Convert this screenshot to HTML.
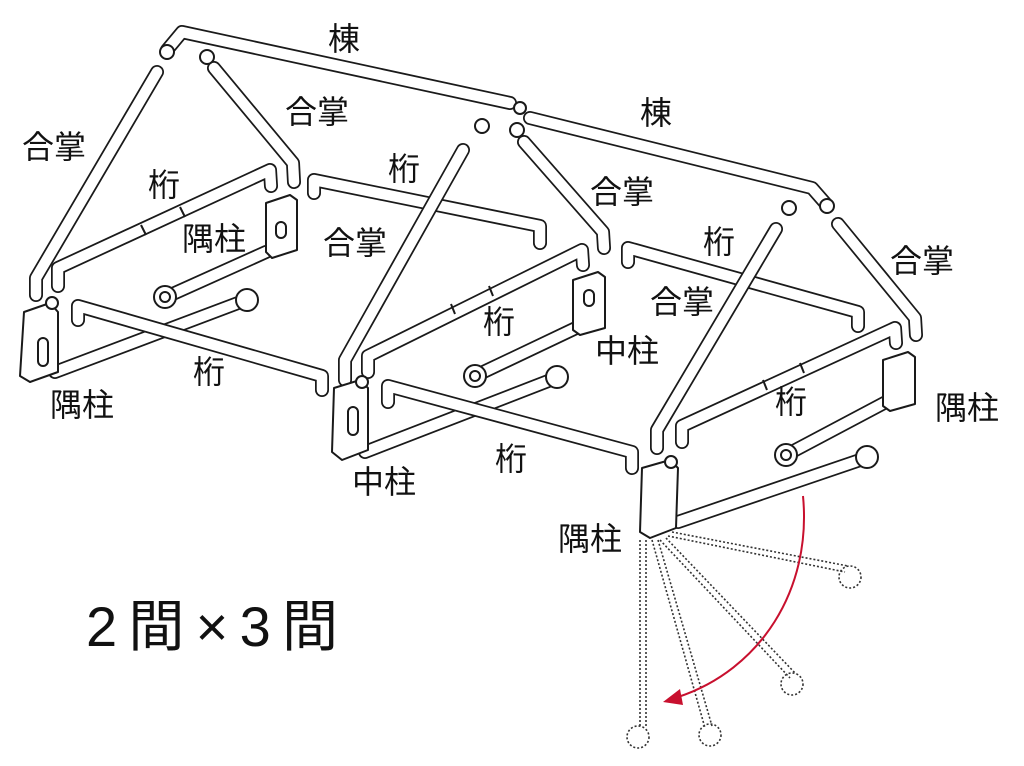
<!DOCTYPE html>
<html><head><meta charset="utf-8"><style>
html,body{margin:0;padding:0;background:#fff;}
svg{display:block}
.o{fill:none;stroke:#1a1a1a;stroke-width:14;stroke-linecap:round;stroke-linejoin:round}
.i{fill:none;stroke:#fff;stroke-width:10.5;stroke-linecap:round;stroke-linejoin:round}
.p{fill:#fff;stroke:#1a1a1a;stroke-width:2;stroke-linejoin:round}
.d{fill:none;stroke:#333;stroke-width:1.6;stroke-dasharray:2 2}
text{font-family:"Liberation Sans","Noto Sans CJK JP",sans-serif;font-size:32px;fill:#111}
</style></head><body>
<svg width="1024" height="766" viewBox="0 0 1024 766" xmlns="http://www.w3.org/2000/svg">
<defs>
<path id="r1" d="M167 50 L182 32 L510 103"/>
<path id="r2" d="M530 118 L812 188 L826 204"/>
<path id="a1" d="M157 72 L36 278 L36 295"/>
<path id="a2" d="M214 68 L293 163 L294 182"/>
<path id="a3" d="M463 150 L345 360 L345 380"/>
<path id="a4" d="M524 142 L603 232 L604 248"/>
<path id="a5" d="M776 229 L657 430 L657 448"/>
<path id="a6" d="M838 224 L915 318 L916 335"/>
<path id="b1" d="M58 286 L58 268 L270 170 L271 186"/>
<path id="b2" d="M78 320 L78 306 L322 376 L322 390"/>
<path id="b3" d="M314 193 L314 180 L540 226 L540 243"/>
<path id="b4" d="M368 372 L368 356 L582 250 L583 265"/>
<path id="b5" d="M388 402 L388 386 L632 452 L632 468"/>
<path id="b6" d="M628 262 L628 248 L858 312 L858 326"/>
<path id="b7" d="M682 442 L682 426 L895 328 L896 343"/>
<path id="t1" d="M55 372 L246 300"/>
<path id="t2" d="M166 297 L266 252"/>
<path id="t3" d="M475 376 L576 328"/>
<path id="t4" d="M365 452 L556 378"/>
<path id="t5" d="M786 455 L886 402"/>
<path id="t6" d="M678 522 L866 458"/>
</defs>
<g>
<use href="#r1" class="o"/><use href="#r1" class="i"/>
<use href="#r2" class="o"/><use href="#r2" class="i"/>
<use href="#b1" class="o"/><use href="#b1" class="i"/>
<use href="#b3" class="o"/><use href="#b3" class="i"/>
<use href="#b6" class="o"/><use href="#b6" class="i"/>
<use href="#t2" class="o"/><use href="#t2" class="i"/>
<use href="#t3" class="o"/><use href="#t3" class="i"/>
<use href="#t5" class="o"/><use href="#t5" class="i"/>
<use href="#b4" class="o"/><use href="#b4" class="i"/>
<use href="#b7" class="o"/><use href="#b7" class="i"/>
<use href="#a1" class="o"/><use href="#a1" class="i"/>
<use href="#a2" class="o"/><use href="#a2" class="i"/>
<use href="#a3" class="o"/><use href="#a3" class="i"/>
<use href="#a4" class="o"/><use href="#a4" class="i"/>
<use href="#a5" class="o"/><use href="#a5" class="i"/>
<use href="#a6" class="o"/><use href="#a6" class="i"/>
<use href="#t1" class="o"/><use href="#t1" class="i"/>
<use href="#b2" class="o"/><use href="#b2" class="i"/>
<use href="#t4" class="o"/><use href="#t4" class="i"/>
<use href="#b5" class="o"/><use href="#b5" class="i"/>
<use href="#t6" class="o"/><use href="#t6" class="i"/>
</g>
<g class="p">
<circle cx="167" cy="52" r="7"/><circle cx="207" cy="57" r="7"/>
<circle cx="482" cy="126" r="7"/><circle cx="517" cy="130" r="7"/><circle cx="520" cy="108" r="6"/>
<circle cx="789" cy="208" r="7"/><circle cx="827" cy="206" r="7"/>
<circle cx="247" cy="300" r="11"/><circle cx="557" cy="377" r="11"/><circle cx="867" cy="457" r="11"/>
<circle cx="165" cy="297" r="11"/><circle cx="475" cy="376" r="11"/><circle cx="786" cy="455" r="11"/>
</g>
<g fill="none" stroke="#1a1a1a" stroke-width="2">
<circle cx="165" cy="297" r="5"/><circle cx="475" cy="376" r="5"/><circle cx="786" cy="455" r="5"/>
</g>
<g stroke="#1a1a1a" stroke-width="2">
<line x1="141" y1="225" x2="146" y2="235"/><line x1="180" y1="207" x2="185" y2="217"/>
<line x1="451" y1="304" x2="455" y2="314"/><line x1="489" y1="286" x2="493" y2="296"/>
<line x1="763" y1="380" x2="767" y2="390"/><line x1="800" y1="363" x2="804" y2="373"/>
</g>
<g class="p">
<path d="M24 312 L50 303 L58 312 L58 372 L30 382 L20 376 Z"/>
<path d="M266 203 L290 195 L297 200 L297 250 L272 258 L266 252 Z"/>
<path d="M334 388 L360 380 L368 388 L368 450 L342 460 L332 452 Z"/>
<path d="M573 280 L598 272 L605 277 L605 328 L580 335 L573 330 Z"/>
<path d="M642 468 L670 460 L678 468 L676 528 L650 538 L640 532 Z"/>
<path d="M883 360 L908 352 L915 357 L915 404 L890 411 L883 406 Z"/>
<rect x="38" y="338" width="10" height="28" rx="5"/>
<rect x="276" y="222" width="10" height="16" rx="5"/>
<rect x="348" y="407" width="10" height="28" rx="5"/>
<rect x="584" y="290" width="10" height="16" rx="5"/>
<circle cx="52" cy="303" r="6"/><circle cx="362" cy="382" r="6"/><circle cx="671" cy="462" r="6"/>
</g>
<g class="d">
<path d="M640 540 L640 728 M646 540 L646 728"/>
<circle cx="638" cy="737" r="11"/>
<path d="M652 540 L705 728 M658 540 L712 726"/>
<circle cx="710" cy="735" r="11"/>
<path d="M660 540 L790 678 M666 538 L796 674"/>
<circle cx="792" cy="684" r="11"/>
<path d="M668 536 L845 572 M672 532 L848 566"/>
<circle cx="850" cy="577" r="11"/>
</g>
<path d="M803 496 C812 590 760 670 678 697" fill="none" stroke="#c8102e" stroke-width="2"/>
<polygon points="663,702 680,689 683,705" fill="#c8102e"/>
<text x="328" y="50">棟</text><text x="640" y="124">棟</text>
<text x="22" y="158">合掌</text><text x="285" y="123">合掌</text><text x="323" y="254">合掌</text>
<text x="590" y="203">合掌</text><text x="650" y="313">合掌</text><text x="890" y="272">合掌</text>
<text x="148" y="196">桁</text><text x="388" y="180">桁</text><text x="193" y="383">桁</text>
<text x="483" y="333">桁</text><text x="703" y="253">桁</text><text x="495" y="470">桁</text><text x="775" y="413">桁</text>
<text x="182" y="250">隅柱</text><text x="50" y="416">隅柱</text><text x="558" y="550">隅柱</text><text x="935" y="419">隅柱</text>
<text x="595" y="362">中柱</text><text x="352" y="493">中柱</text>
<text x="86" y="646" style="font-size:56px" textLength="252" lengthAdjust="spacing">2間×3間</text>
</svg>
</body></html>
